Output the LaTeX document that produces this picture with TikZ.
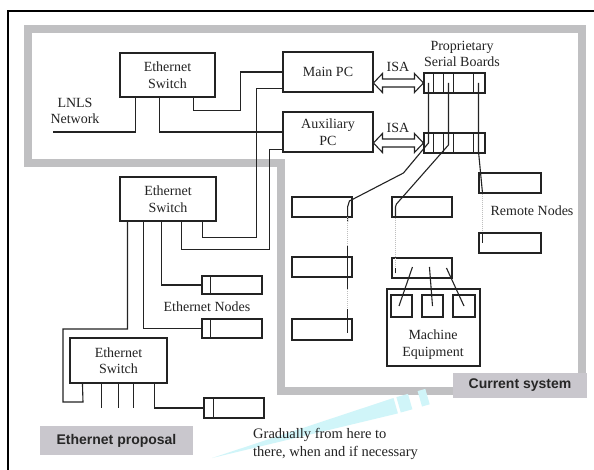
\documentclass[tikz,border=0pt]{standalone}
\usepackage{fontspec}
\setmainfont{Liberation Serif}
\setsansfont{Liberation Sans}
\usetikzlibrary{calc}
\definecolor{bandc}{RGB}{192,192,194}
\definecolor{labc}{RGB}{201,199,205}
\definecolor{cyc}{RGB}{208,245,249}
\definecolor{lnc}{RGB}{35,35,35}
\begin{document}
\begin{tikzpicture}[x=1pt,y=-1pt,
  txt/.style={font=\fontsize{14}{16.5}\selectfont, align=center, inner sep=0pt, text=lnc},
  bx/.style={draw=lnc, line width=1.1pt, inner sep=0pt, txt},
  wire/.style={draw=lnc, line width=1.1pt},
  dots/.style={draw=gray!50, line width=1pt, densely dotted},
  lbl/.style={fill=labc, font=\sffamily\bfseries\fontsize{14}{16}\selectfont, inner sep=0pt, text=black!85}]
\useasboundingbox (0,0) rectangle (594,470);
\fill[white] (0,0) rectangle (594,470);
% outer frame
\draw[line width=1.2pt] (8,470) -- (8,11) -- (594,11);
% current system band
\draw[bandc, line width=8pt, line join=miter] (28,29) -- (582,29) -- (582,391) -- (281,391) -- (281,163) -- (28,163) -- cycle;
% cyan pointer
\fill[cyc] (212,458) -- (393.5,398.0) -- (397.9,413.4) -- cycle;
\fill[cyc] (396.4,397.1) -- (408.0,393.9) -- (412.4,409.3) -- (400.8,412.5) -- cycle;
\fill[cyc] (417.6,391.1) -- (425.3,388.9) -- (429.7,404.3) -- (422.0,406.5) -- cycle;
% labels
\node[lbl, minimum width=134pt, minimum height=25pt] (cs) at (520,385.5) {Current system};
\node[lbl, minimum width=153pt, minimum height=29pt] (ep) at (116.5,440.5) {Ethernet proposal};
\node[txt, align=left, anchor=west, font=\fontsize{14.5}{18}\selectfont] (grad) at (253,444) {Gradually from here to\\there, when and if necessary};
% nodes
\node[bx, minimum width=95pt, minimum height=44pt] (sw1) at (167.5,75) {Ethernet\\Switch};
\node[txt] (lnls) at (75,111) {LNLS\\Network};
\coordinate (lnlsend) at (53,132);
\node[bx, minimum width=90pt, minimum height=40pt] (mainpc) at (328,72) {Main PC};
\node[bx, minimum width=90pt, minimum height=40pt] (auxpc) at (328,132) {Auxiliary\\PC};
\node[txt] (psb) at (462,54) {Proprietary\\Serial Boards};
\node[bx, minimum width=61pt, minimum height=20pt] (b1) at (454.5,83) {};
\node[bx, minimum width=61pt, minimum height=20pt] (b2) at (454.5,143) {};
\node[txt] (isa1) at (398,67) {ISA};
\node[txt] (isa2) at (398,128) {ISA};
\node[bx, minimum width=96pt, minimum height=44pt] (sw2) at (168,199) {Ethernet\\Switch};
\node[bx, minimum width=60pt, minimum height=18pt] (en1) at (232,285) {};
\node[bx, minimum width=60pt, minimum height=19pt] (en2) at (232,328.5) {};
\node[txt] (enl) at (207,307) {Ethernet Nodes};
\node[bx, minimum width=97pt, minimum height=45pt] (sw3) at (118.5,360.5) {Ethernet\\Switch};
\node[bx, minimum width=60pt, minimum height=20pt] (en3) at (234,408) {};
\node[bx, minimum width=60pt, minimum height=20pt] (L1) at (322,207) {};
\node[bx, minimum width=60pt, minimum height=20pt] (L2) at (322,267) {};
\node[bx, minimum width=60pt, minimum height=21pt] (L3) at (322,329.5) {};
\node[bx, minimum width=60pt, minimum height=20pt] (M1) at (422,207) {};
\node[bx, minimum width=60pt, minimum height=20pt] (M2) at (422,268) {};
\node[bx, minimum width=62pt, minimum height=20pt] (R1) at (510,183) {};
\node[bx, minimum width=62pt, minimum height=20pt] (R2) at (510,243) {};
\node[txt] (rn) at (532,211) {Remote Nodes};
\node[bx, minimum width=93pt, minimum height=77pt] (me) at (433.5,327.5) {};
\node[txt] (mel) at (433,344.5) {Machine\\Equipment};
\node[bx, minimum width=21pt, minimum height=22pt] (s1) at (401.5,306) {};
\node[bx, minimum width=21pt, minimum height=22pt] (s2) at (432.5,306) {};
\node[bx, minimum width=22pt, minimum height=22pt] (s3) at (464,306) {};
% board dividers
\foreach \b in {b1,b2}{
  \foreach \d in {10,20,30,50}{
    \draw[wire] ([xshift=\d pt]\b.south west) -- ([xshift=\d pt]\b.north west);
  }
}
% ethernet node dividers
\draw[wire] ([xshift=9pt]en1.south west) -- ([xshift=9pt]en1.north west);
\draw[wire] ([xshift=9pt]en2.south west) -- ([xshift=9pt]en2.north west);
\draw[wire] ([xshift=10pt]en3.south west) -- ([xshift=10pt]en3.north west);
% ISA arrows
\draw[wire, fill=white, line join=miter] (b1.west) -- ++(-9,-9.5) -- ++(0,5.5) -- ++(-32,0) -- ++(0,-5.5) -- ++(-9,9.5) -- ++(9,9.5) -- ++(0,-5.5) -- ++(32,0) -- ++(0,5.5) -- cycle;
\draw[wire, fill=white, line join=miter] (b2.west) -- ++(-9,-9.5) -- ++(0,5.5) -- ++(-32,0) -- ++(0,-5.5) -- ++(-9,9.5) -- ++(9,9.5) -- ++(0,-5.5) -- ++(32,0) -- ++(0,5.5) -- cycle;
% upper switch wiring
\draw[wire] ([xshift=16pt]sw1.south west) |- (lnlsend);
\draw[wire] ([xshift=40pt]sw1.south west) |- (auxpc.west);
\draw[wire] ([xshift=74pt]sw1.south west) -- ++(0,13) -| ([xshift=-42pt]mainpc.west) -- (mainpc.west);
% second switch wiring
\draw[wire] ([xshift=83pt]sw2.south west) -- ++(0,16) -| ([xshift=-26pt,yshift=4pt]mainpc.south west) -- ([yshift=4pt]mainpc.south west);
\draw[wire] ([xshift=62pt]sw2.south west) -- ++(0,28) -| ([xshift=-13pt,yshift=3pt]auxpc.south west) -- ([yshift=3pt]auxpc.south west);
\draw[wire] ([xshift=42pt]sw2.south west) |- (en1.west);
\draw[wire] ([xshift=24pt]sw2.south west) |- (en2.west);
\coordinate (k1) at (63,329);
\coordinate (k2) at (83,402);
\draw[wire] ([xshift=8pt]sw2.south west) |- (k1) |- (k2) -- ([xshift=13pt]sw3.south west);
% third switch wiring
\foreach \d in {32,49,64}{
  \draw[wire] ([xshift=\d pt]sw3.south west) -- ++(0,24);
}
\draw[wire] ([xshift=85pt]sw3.south west) |- (en3.west);
% serial lines
\draw[wire] ([xshift=5pt]b1.west) -- ([xshift=5pt]b2.west) -- ++(-25,30) -- ++(-54,28) -- ([xshift=-5pt]L1.east) -- ++(0,15);
\draw[dots] ([xshift=-5pt,yshift=-10pt]L1.east) -- ([xshift=-5pt,yshift=8pt]L3.south east);
\draw[wire] ([xshift=-5pt,yshift=10pt]L2.north east) -- ++(0,43);
\draw[wire] ([xshift=-5pt,yshift=9pt]L3.north east) -- ([xshift=-5pt,yshift=8pt]L3.south east);
\draw[wire] ([xshift=25pt]b1.west) -- ([xshift=25pt,yshift=-2pt]b2.west) -- ++(-52,59) -- ([xshift=4pt]M1.west) -- ([xshift=4pt]M1.south west);
\draw[dots] ([xshift=4pt]M1.south west) -- ([xshift=4pt,yshift=-16pt]M2.north west);
\draw[wire] ([xshift=4pt,yshift=-16pt]M2.north west) -- ([xshift=4pt]M2.west);
\draw[wire] ([xshift=55pt]b1.west) -- ([xshift=55pt,yshift=-8pt]b2.west) -- ([xshift=4pt,yshift=1pt]R1.south west);
\draw[dots] ([xshift=4pt]R1.south west) -- ([xshift=4pt]R2.north west);
\draw[wire] ([xshift=4pt]R2.north west) -- ([xshift=4pt]R2.west);
% machine equipment links
\draw[wire] ([xshift=21pt,yshift=1pt]M2.west) -- ([xshift=-2.5pt]s1.center);
\draw[wire] ([xshift=38pt,yshift=1pt]M2.west) -- (s2.center);
\draw[wire] ([xshift=55pt]M2.west) -- (s3.center);
\end{tikzpicture}
\end{document}
